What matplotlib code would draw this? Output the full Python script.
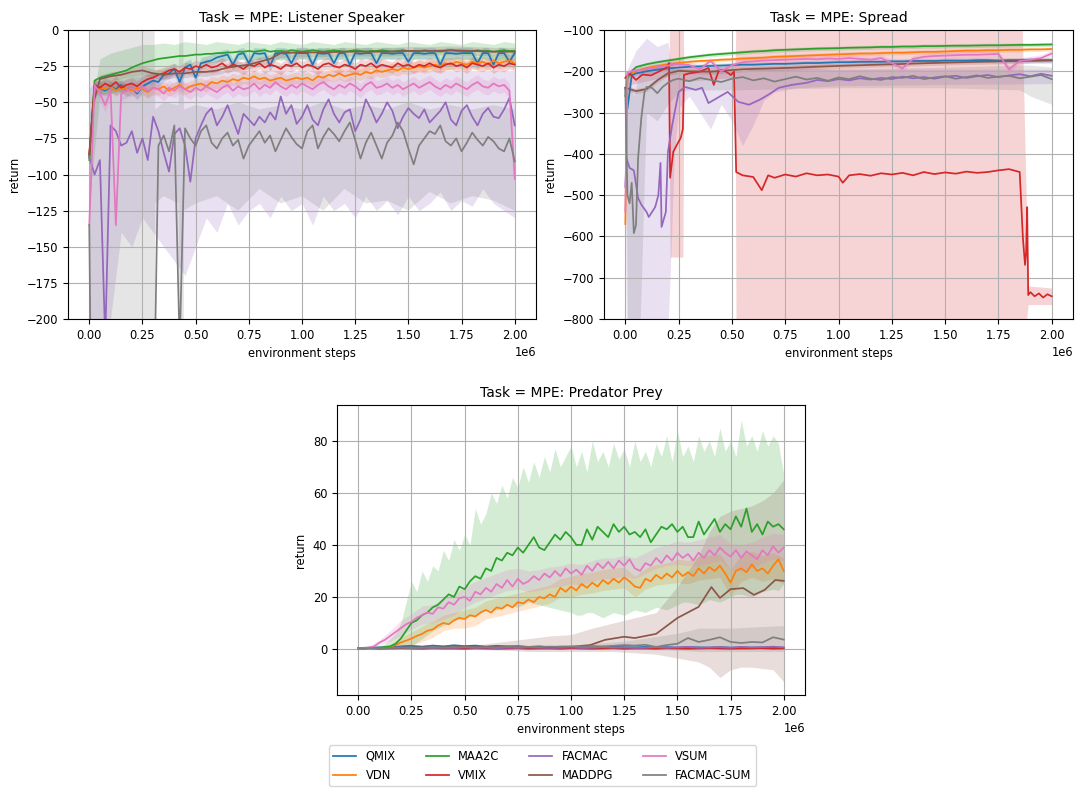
import numpy as np
import matplotlib
matplotlib.use("Agg")
import matplotlib.pyplot as plt

plt.rcParams["font.family"] = ["DejaVu Sans"]
plt.rcParams["font.size"] = 8.3
plt.rcParams["axes.titlesize"] = 10
plt.rcParams["legend.fontsize"] = 8.3

STEP = 1e6
ALGOS = ["QMIX", "VDN", "MAA2C", "VMIX", "FACMAC", "MADDPG", "VSUM", "FACMAC-SUM"]
COLORS = {"QMIX": "tab:blue", "VDN": "tab:orange", "MAA2C": "tab:green", "VMIX": "tab:red",
          "FACMAC": "tab:purple", "MADDPG": "tab:brown", "VSUM": "tab:pink", "FACMAC-SUM": "tab:gray"}

# evaluation grids (millions of environment steps)
X81 = np.linspace(0, 2, 81)
X41 = np.linspace(0, 2, 41)

# ---------------- Listener Speaker ----------------
ls_qmix = [
    -88, -38, -40, -42, -39, -41, -38, -42, -40, -44,
    -39, -37, -35, -36, -31, -30, -27, -36, -26, -24,
    -33, -23, -22, -21, -19, -18, -17, -24, -17, -16,
    -23, -16, -16.5, -16, -25, -16, -16, -16.5, -23, -16,
    -16, -16, -24, -16, -16.5, -16, -23, -16, -16, -24,
    -16, -16.5, -16, -16, -23, -16, -16, -16.5, -16, -16,
    -22, -16, -16, -16.5, -16, -16, -24, -16, -16, -16.5,
    -16, -16, -16, -23, -16, -16, -24, -16, -16, -22,
    -16]
ls_vdn = [
    -88, -42, -40, -41, -39, -42, -40, -41, -42, -40,
    -41, -43, -40, -41, -39, -42, -40, -38, -41, -39,
    -38, -37, -39, -36, -37, -35, -36, -34, -35, -33,
    -34, -32, -34, -33, -35, -34, -33, -35, -34, -33,
    -34, -33, -35, -32, -33, -31, -32, -30, -32, -31,
    -30, -31, -29, -30, -28, -29, -28, -27, -28, -26,
    -27, -26, -25, -26, -25, -24, -25, -23, -24, -22,
    -23, -24, -22, -23, -22, -24, -21, -23, -22, -21,
    -23]
ls_maa2c = [
    -90, -35, -33, -32, -31, -30, -29, -28, -26, -24.5,
    -23, -22, -21, -20, -19.5, -19, -18.5, -18, -18, -17.5,
    -17, -17, -16.5, -16.5, -16, -16, -15.5, -15.5, -15, -15,
    -14.5, -15, -14.5, -14, -15, -14.5, -14.5, -15, -14, -14.5,
    -15, -14.5, -14, -14.5, -15, -14.5, -14, -14.5, -15, -14.5,
    -14, -14.5, -15, -14.5, -14.5, -14, -14.5, -15, -14.5, -14,
    -14.5, -14.5, -15, -14, -14.5, -14.5, -15, -14.5, -14, -14.5,
    -14.5, -15, -14.5, -14, -14.5, -14.5, -15, -14.5, -14, -14.5,
    -14.5]
ls_vmix = [
    -86, -38, -40, -37, -39, -36, -40, -38, -37, -39,
    -36, -34, -33, -31, -30, -28, -27, -29, -26, -27,
    -25, -26, -24, -26, -25, -23, -26, -24, -25, -27,
    -24, -25, -23, -26, -24, -25, -27, -24, -25, -23,
    -26, -24, -25, -27, -24, -23, -25, -26, -24, -25,
    -27, -24, -25, -23, -26, -24, -25, -26, -23, -25,
    -24, -26, -24, -25, -23, -25, -26, -24, -23, -25,
    -24, -26, -23, -24, -25, -23, -26, -24, -25, -23,
    -24]
ls_facmac = [
    -88, -100, -90, -215, -66, -70, -80, -78, -70, -85,
    -75, -90, -60, -70, -85, -98, -72, -68, -80, -105,
    -75, -66, -58, -54, -66, -60, -52, -62, -72, -58,
    -62, -66, -60, -64, -57, -62, -46, -58, -52, -65,
    -60, -52, -62, -66, -55, -48, -58, -64, -57, -55,
    -70, -62, -48, -55, -64, -58, -50, -56, -68, -60,
    -54, -58, -61, -55, -64, -60, -56, -50, -62, -66,
    -56, -52, -60, -66, -58, -54, -60, -61, -55, -47,
    -66]
ls_vsum = [
    -135, -38, -44, -52, -42, -135, -44, -42, -40, -43,
    -39, -42, -40, -41, -44, -40, -42, -39, -41, -43,
    -40, -42, -39, -41, -43, -40, -38, -42, -39, -41,
    -40, -37, -41, -38, -40, -36, -39, -41, -38, -40,
    -37, -39, -41, -38, -36, -39, -41, -38, -40, -37,
    -39, -42, -38, -36, -40, -39, -37, -40, -38, -41,
    -39, -37, -40, -38, -36, -39, -41, -38, -40, -37,
    -39, -41, -38, -36, -39, -40, -37, -39, -38, -42,
    -103]
ls_facmac_sum = [
    -135, -500, -500, -500, -500, -500, -500, -500, -500, -500,
    -500, -500, -300, -80, -73, -84, -66, -220, -68, -75,
    -80, -70, -66, -78, -82, -75, -71, -80, -76, -89,
    -80, -75, -70, -78, -73, -84, -76, -68, -74, -79,
    -82, -70, -66, -82, -74, -68, -72, -77, -70, -64,
    -76, -89, -78, -71, -80, -89, -78, -73, -64, -70,
    -82, -93, -80, -75, -70, -72, -66, -77, -80, -75,
    -84, -78, -71, -76, -80, -74, -77, -82, -84, -75,
    -91]
ls_maddpg_x = [0, 0.02, 0.05, 0.1, 0.15, 0.2, 0.25, 0.3, 0.35, 0.4, 0.45, 0.5, 0.55, 0.6, 0.65,
               0.7, 0.75, 0.8, 0.85, 0.9, 1.0, 1.1, 1.2, 1.3, 1.4, 1.5, 1.6, 1.7, 1.8, 1.9, 2.0]
ls_maddpg = [-86, -50, -34, -32, -31, -29, -28, -30, -31, -30, -30, -29, -29, -28, -26,
             -25, -24, -22, -20, -16, -15.5, -15.5, -15, -15, -15, -14.5, -14.5, -14, -14.5, -15, -15]

# shaded bands (lower / upper)
ls_maa2c_lo = [
    -120, -45, -44, -42, -40, -36, -32, -29, -27, -25,
    -24, -23, -22, -21, -20, -21, -20, -20, -21, -20,
    -20, -21, -20, -20, -21, -20, -20, -21, -20, -20,
    -21, -20, -20, -21, -20, -20, -21, -20, -20, -21,
    -20]
ls_maa2c_hi = [
    -60, -20, -16, -14, -12, -10, -10, -9, -10, -8,
    -9, -10, -8, -9, -10, -8, -9, -10, -8, -9,
    -10, -8, -9, -10, -8, -9, -10, -8, -9, -10,
    -8, -9, -10, -8, -9, -10, -8, -9, -10, -8,
    -9]
ls_facmac_lo = [
    -200, -220, -200, -140, -150, -130, -140, -150, -160, -170,
    -150, -130, -140, -120, -135, -125, -120, -130, -115, -125,
    -120, -135, -115, -125, -120, -130, -115, -125, -118, -128,
    -115, -125, -120, -112, -125, -118, -122, -110, -120, -125,
    -130]
ls_facmac_hi = [
    -40, -35, -35, -35, -32, -32, -30, -30, -30, -30,
    -30, -28, -28, -28, -28, -28, -28, -28, -28, -28,
    -28, -28, -28, -28, -28, -28, -28, -28, -28, -28,
    -28, -28, -28, -28, -28, -28, -28, -28, -28, -28,
    -28]
ls_fsum_band_x = [0, 0.305, 0.31, 0.35, 0.42, 0.425, 0.44, 0.445, 0.5, 0.6,
                  0.7, 0.8, 0.9, 1.0, 1.1, 1.2, 1.3, 1.4, 1.5, 1.6, 1.7, 1.8, 1.9, 2.0]
ls_fsum_lo = [-1000, -1000, -120, -115, -120, -1000, -1000, -125, -120, -115,
              -125, -110, -120, -115, -125, -110, -120, -118, -125, -112, -120, -115, -118, -125]
ls_fsum_hi = [30, 30, -55, -50, -52, 30, 30, -55, -52, -55,
              -50, -55, -52, -55, -50, -55, -52, -55, -50, -55, -52, -55, -52, -55]

# ---------------- Spread ----------------
SP_X = np.r_[[0, 0.01, 0.03], X41[1:]]
sp_maa2c = [-260, -215, -200,
            -190, -183, -178, -174, -170, -166, -163, -160, -158, -156,
            -154, -152, -151, -149, -148, -147, -146, -145, -144.5, -144,
            -143, -142.5, -142, -141, -141, -140, -140, -139, -139, -138.5,
            -138, -138, -137.5, -137, -137, -136.5, -136, -136, -135.5, -135]
sp_vdn = [-570, -215, -205,
          -200, -192, -187, -183, -180, -177, -175, -174, -172, -171,
          -169, -168, -167, -165, -164, -163, -162, -161, -160, -159,
          -158, -157, -157, -156, -155, -155, -154, -153, -153, -152,
          -151, -150, -150, -149, -149, -148, -148, -147, -147, -146]
sp_qmix = [-240, -290, -210,
           -205, -200, -196, -193, -191, -189, -188, -187, -186, -185,
           -184, -184, -183, -182, -182, -181, -180, -180, -179, -178,
           -178, -177, -177, -177, -176, -176, -175, -175, -175, -174,
           -174, -174, -173, -173, -174, -173, -173, -172, -173, -173]
sp_vsum = [-540, -205, -200,
           -198, -195, -190, -186, -183, -185, -195, -175, -200, -185,
           -178, -176, -174, -173, -172, -171, -170, -171, -169, -170,
           -168, -170, -172, -168, -180, -193, -170, -165, -163, -162,
           -161, -160, -160, -159, -158, -195, -175, -172, -168, -157]
sp_maddpg_x = [0, 0.05, 0.1, 0.15, 0.2, 0.25, 0.3, 0.4, 0.5, 0.55, 0.75, 1.0, 1.25, 1.5, 1.75, 2.0]
sp_maddpg = [-240, -248, -243, -222, -205, -199, -200, -201, -197, -195, -192, -187, -183, -179, -176, -174]
sp_fsum_x = np.r_[[0, 0.01, 0.02, 0.03, 0.04, 0.05, 0.06, 0.075, 0.09, 0.1, 0.125, 0.15, 0.175, 0.2, 0.225, 0.25],
                  np.linspace(0.3, 2.0, 35)]
sp_fsum = [-245, -500, -520, -470, -592, -572, -410, -313, -250, -238, -240, -253, -238, -228, -221, -218,
           -224, -216, -221, -226, -218, -214, -222, -217, -225, -219,
           -213, -220, -216, -223, -215, -219, -212, -218, -221, -214,
           -216, -211, -219, -215, -212, -218, -214, -210, -216, -213,
           -211, -217, -213, -209, -219]
sp_facmac_x = [0, 0.005, 0.02, 0.04, 0.06, 0.075, 0.1, 0.11, 0.14, 0.155,
               0.165, 0.17, 0.19, 0.2, 0.22, 0.25, 0.28, 0.33, 0.36, 0.39,
               0.44, 0.48, 0.53, 0.58, 0.63, 0.67, 0.72, 0.78, 0.85, 0.9,
               0.95, 1.0, 1.05, 1.1, 1.15, 1.2, 1.25, 1.3, 1.35, 1.4,
               1.45, 1.5, 1.55, 1.6, 1.65, 1.7, 1.75, 1.8, 1.85, 1.9, 1.95, 2.0]
sp_facmac = [-480, -410, -434, -440, -507, -523, -541, -553, -529, -500,
             -422, -577, -541, -395, -330, -250, -238, -245, -240, -277,
             -262, -250, -274, -281, -269, -257, -240, -233, -228, -221,
             -224, -219, -222, -217, -220, -216, -219, -213, -217, -214,
             -218, -213, -211, -216, -212, -209, -214, -210, -207, -212, -206, -211]
sp_vmix_x = [0, 0.02, 0.05, 0.08, 0.12, 0.16, 0.19, 0.205, 0.21, 0.225,
             0.24, 0.26, 0.27, 0.275, 0.3, 0.35, 0.39, 0.415, 0.44, 0.47,
             0.495, 0.51, 0.52, 0.55, 0.6, 0.64, 0.67, 0.7, 0.75, 0.8,
             0.85, 0.9, 0.95, 1.0, 1.02, 1.05, 1.1, 1.15, 1.2, 1.25,
             1.3, 1.35, 1.4, 1.45, 1.5, 1.55, 1.6, 1.65, 1.7, 1.75,
             1.8, 1.85, 1.865, 1.875, 1.88, 1.885, 1.89, 1.9, 1.92, 1.94,
             1.96, 1.98, 2.0]
sp_vmix = [-216, -205, -221, -208, -210, -200, -192, -180, -458, -395,
           -380, -361, -340, -209, -205, -201, -192, -233, -196, -200,
           -209, -201, -444, -452, -456, -488, -452, -458, -450, -455,
           -447, -452, -450, -455, -470, -452, -449, -453, -447, -450,
           -446, -452, -444, -449, -445, -448, -443, -446, -444, -440,
           -437, -444, -604, -669, -640, -529, -742, -735, -745, -738,
           -748, -740, -745]
sp_vmix_band_x = [0, 0.2, 0.205, 0.21, 0.27, 0.275, 0.515, 0.52, 1.86, 1.89, 2.0]
sp_vmix_lo = [-235, -212, -215, -650, -650, -225, -215, -900, -900, -765, -765]
sp_vmix_hi = [-200, -180, -170, -50, -50, -190, -185, -50, -50, -720, -725]
sp_facmac_band_x = [0, 0.005, 0.05, 0.1, 0.15, 0.2, 0.21, 0.23, 0.25, 0.3, 0.35, 0.4,
                    0.45, 0.5, 0.55, 0.6, 0.65, 0.7, 0.75, 0.8, 1.0, 1.5, 2.0]
sp_facmac_lo = [-500, -820, -850, -850, -850, -820, -700, -400, -290, -260, -300, -340,
                -280, -320, -380, -330, -270, -250, -245, -240, -235, -232, -230]
sp_facmac_hi = [-460, -200, -150, -120, -140, -130, -170, -200, -205, -200, -195, -190,
                -190, -195, -200, -190, -190, -190, -190, -190, -195, -195, -195]
sp_fsum_band_x = [0, 0.01, 0.04, 0.07, 0.09, 0.1, 0.15, 0.2, 0.25, 0.3, 0.5, 1.0, 1.5, 1.85, 1.9, 2.0]
sp_fsum_lo = [-260, -800, -850, -800, -450, -300, -320, -280, -250, -245, -245, -240, -240, -245, -260, -280]
sp_fsum_hi = [-200, -200, -260, -190, -190, -190, -185, -190, -195, -195, -195, -195, -190, -185, -185, -190]

# ---------------- Predator Prey ----------------
pp_maa2c = [
    0.3, 0.2, 0.3, 0.4, 0.5, 0.8, 1.0, 2.0, 4, 7,
    10, 11, 13, 14, 16, 17, 19, 21, 20, 24,
    23, 26, 28, 27, 31, 30, 35, 34, 37, 36,
    39, 37, 40, 43, 39, 38, 41, 44, 42, 45,
    43, 40, 40, 46, 42, 47, 45, 43, 48, 45,
    47, 44, 45, 43, 46, 41, 44, 47, 46, 48,
    45, 47, 43, 43, 49, 44, 47, 50, 45, 48,
    46, 51, 47, 54, 45, 48, 44, 49, 47, 48,
    46]
pp_vsum = [
    0.2, 0.3, 0.5, 1.0, 2.5, 3.5, 5, 6.5, 8, 9.5,
    10.5, 12, 13, 14, 13.5, 16, 15.5, 18, 17, 19.5,
    20, 18.5, 22, 21, 23.5, 22, 25, 23.5, 26.5, 24,
    27, 25, 26, 28, 26.5, 29, 27.5, 30, 28, 31,
    29, 30.5, 28.5, 32, 30, 33, 31, 33.5, 31, 34,
    32, 34.5, 31, 30, 33, 32, 35, 33, 36, 34,
    37, 35, 36.5, 34, 37, 35, 38, 36, 39, 37,
    35.5, 38, 35, 37.5, 36, 34.5, 38, 36, 39.5, 37,
    39]
pp_vdn = [
    0.1, 0.2, 0.2, 0.3, 0.4, 0.5, 0.8, 1.5, 2.5, 3.2,
    4, 5, 5.8, 7, 7.5, 9, 10, 9.5, 11, 12,
    11.5, 13, 12.5, 14, 15, 14, 16, 15.5, 17, 16,
    18, 17.5, 19, 18, 20, 19.5, 21, 20, 23.5, 22,
    24, 22.5, 25, 23.5, 25.5, 24, 26.5, 25, 27, 25.5,
    27.5, 26, 24, 23.5, 27, 26, 28.5, 27, 29, 27.5,
    30, 28, 29.5, 28, 31, 29, 31.5, 30, 32, 29,
    25.5, 30, 31, 29.5, 32.5, 30, 31, 29, 32, 34.5,
    30]
pp_qmix = [0.3, 0.5, 0.6, 0.7, 1.0, 1.2, 0.9, 1.3, 1.0, 1.4,
           1.1, 1.3, 0.9, 1.2, 1.0, 1.1, 0.8, 1.0, 0.7, 0.9,
           0.8, 0.7, 0.9, 0.6, 0.8, 0.7, 0.6, 0.8, 0.6, 0.7,
           0.5, 0.7, 0.6, 0.5, 0.7, 0.5, 0.6, 0.5, 0.6, 0.5,
           0.5]
pp_vmix = [0.2, 0.3, 0.1, 0.2, 0.3, 0.2, 0.1, 0.3, 0.2, 0.2,
           0.1, 0.3, 0.2, 0.1, 0.2, 0.3, 0.1, 0.2, 0.2, 0.1,
           0.3, 0.2, 0.1, 0.2, 0.3, 0.1, 0.2, 0.2, 0.1, 0.3,
           0.2, 0.1, 0.2, 0.3, 0.2, 0.1, 0.2, 0.2, 0.3, 0.1,
           0.2]
pp_facmac = [0.4, 0.5, 0.3, 0.4, 0.6, 0.4, 0.5, 0.3, 0.5, 0.4,
             0.6, 0.4, 0.5, 0.3, 0.5, 0.4, 0.6, 0.5, 0.4, 0.5,
             0.6, 0.4, 0.5, 0.7, 0.5, 0.6, 0.4, 0.5, 0.7, 0.5,
             0.6, 0.8, 0.5, 0.6, 0.7, 0.5, 0.8, 0.6, 0.7, 0.9,
             0.6]
pp_facmac_sum = [0.2, 0.3, 0.3, 0.4, 0.5, 0.4, 0.5, 0.6, 0.5, 0.6,
                 0.7, 0.6, 0.7, 0.6, 0.8, 0.7, 0.8, 0.7, 0.9, 0.8,
                 1.0, 0.9, 1.1, 1.0, 1.2, 1.5, 1.3, 1.6, 0.8, 1.5,
                 2.0, 4.2, 2.7, 3.5, 4.5, 2.7, 2.3, 2.7, 2.5, 4.5,
                 3.6]
pp_maddpg_x = [0, 0.1, 0.2, 0.3, 0.4, 0.5, 0.6, 0.7, 0.8, 0.9, 1.0, 1.09, 1.16,
               1.25, 1.3, 1.4, 1.5, 1.6, 1.66, 1.7, 1.75, 1.81, 1.86, 1.91, 1.96, 2.0]
pp_maddpg = [0.3, 0.3, 0.5, 0.6, 0.6, 0.8, 0.7, 0.9, 0.6, 0.7, 0.8, 1.5, 3.5,
             4.7, 4.2, 5.8, 11.9, 16.2, 23.8, 19.6, 23, 23.4, 20.8, 22.7, 26.5, 26.2]
pp_maa2c_hi = [
    0.5, 0.5, 0.6, 0.8, 1, 2, 4, 6, 10, 18,
    26, 22, 30, 26, 32, 30, 38, 34, 42, 38,
    44, 40, 54, 48, 52, 60, 56, 63, 58, 66,
    62, 70, 64, 72, 66, 74, 68, 77, 70, 74,
    78, 70, 76, 68, 80, 72, 76, 70, 79, 73,
    77, 70, 80, 72, 76, 70, 79, 74, 82, 72,
    84, 74, 78, 72, 82, 76, 80, 74, 85, 76,
    80, 74, 88, 78, 82, 76, 84, 78, 82, 79,
    67]
pp_maa2c_lo = [
    0, 0, 0, 0, 0, 0, 0, 0.1, 0.2, 0.5,
    1, 2.5, 4, 5.5, 7, 8, 9, 10, 11, 11.5,
    12, 12.5, 13, 14, 15, 15, 15, 16, 17, 16.5,
    16, 17, 18, 17.5, 17, 16.5, 16, 15.5, 15, 14.5,
    14, 13, 13, 14, 14, 13, 12, 13, 14, 13.5,
    13, 14, 15, 14.5, 14, 15, 16, 15.5, 15, 16,
    17, 18, 18, 17.5, 17, 18, 19, 18.5, 18, 19,
    20, 21, 21, 20.5, 20, 21, 22, 22.5, 23, 22.5,
    25]
pp_vsum_sd = [0.3, 0.5, 1, 2, 3, 3, 3.5, 3.5, 4, 4,
              4, 4, 4, 4, 4, 4, 4, 4, 4, 4,
              4, 4, 4, 4, 4, 4, 4, 4, 4, 4,
              4.5, 4.5, 5, 5, 5, 5, 5, 5, 5, 5,
              5]
pp_vdn_sd = [0.2, 0.2, 0.3, 1, 2, 2.5, 3, 3, 3, 3,
             3.5, 3.5, 3.5, 3.5, 3.5, 3.5, 3.5, 3.5, 3.5, 3.5,
             4, 4, 4, 4, 4, 4, 4, 4, 4, 4,
             4.5, 4.5, 4.5, 4.5, 4.5, 5, 5, 5, 5, 5,
             5]
pp_maddpg_band_x = [0, 0.5, 0.7, 0.8, 0.9, 1.0, 1.1, 1.2, 1.3, 1.4,
                    1.5, 1.6, 1.65, 1.7, 1.75, 1.8, 1.85, 1.9, 1.95, 2.0]
pp_maddpg_lo = [0, 0, -0.5, -1, -1, -1, -1, -1, -1.5, -2,
                -3.5, -5, -7, -11, -8, -7, -7, -7.5, -8, -12.6]
pp_maddpg_hi = [0.5, 1, 3, 4, 5, 5.5, 8, 10, 12, 14,
                24, 36, 45, 51, 53, 54, 55, 57, 60, 65]
pp_fsum_band_x = [0, 1.0, 1.25, 1.5, 1.6, 1.75, 2.0]
pp_fsum_lo = [0, 0, 0, -0.5, -1, -1, -1]
pp_fsum_hi = [0.5, 1.5, 3, 6, 8, 8, 9]

pp_vsum_mid = np.asarray(pp_vsum)[::2]
pp_vdn_mid = np.asarray(pp_vdn)[::2]

PANELS = [
    dict(title="Task = MPE: Listener Speaker",
         lines={"QMIX": (X81, ls_qmix), "VDN": (X81, ls_vdn), "MAA2C": (X81, ls_maa2c),
                "VMIX": (X81, ls_vmix), "FACMAC": (X81, ls_facmac), "MADDPG": (ls_maddpg_x, ls_maddpg),
                "VSUM": (X81, ls_vsum), "FACMAC-SUM": (X81, ls_facmac_sum)},
         bands={"MAA2C": (X41, ls_maa2c_lo, ls_maa2c_hi), "FACMAC": (X41, ls_facmac_lo, ls_facmac_hi),
                "FACMAC-SUM": (ls_fsum_band_x, ls_fsum_lo, ls_fsum_hi)},
         spread={"QMIX": 4, "VDN": 4, "VMIX": 4, "VSUM": 5, "MADDPG": 3},
         ylim=(-200, 0), yticks=[-200, -175, -150, -125, -100, -75, -50, -25, 0]),
    dict(title="Task = MPE: Spread",
         lines={"QMIX": (SP_X, sp_qmix), "VDN": (SP_X, sp_vdn), "MAA2C": (SP_X, sp_maa2c),
                "VMIX": (sp_vmix_x, sp_vmix), "FACMAC": (sp_facmac_x, sp_facmac),
                "MADDPG": (sp_maddpg_x, sp_maddpg), "VSUM": (SP_X, sp_vsum),
                "FACMAC-SUM": (sp_fsum_x, sp_fsum)},
         bands={"VMIX": (sp_vmix_band_x, sp_vmix_lo, sp_vmix_hi),
                "FACMAC": (sp_facmac_band_x, sp_facmac_lo, sp_facmac_hi),
                "FACMAC-SUM": (sp_fsum_band_x, sp_fsum_lo, sp_fsum_hi)},
         spread={"QMIX": 6, "VDN": 5, "MAA2C": 5, "VSUM": 8, "MADDPG": 6},
         ylim=(-800, -100), yticks=[-800, -700, -600, -500, -400, -300, -200, -100]),
    dict(title="Task = MPE: Predator Prey",
         lines={"QMIX": (X41, pp_qmix), "VDN": (X81, pp_vdn), "MAA2C": (X81, pp_maa2c),
                "VMIX": (X41, pp_vmix), "FACMAC": (X41, pp_facmac), "MADDPG": (pp_maddpg_x, pp_maddpg),
                "VSUM": (X81, pp_vsum), "FACMAC-SUM": (X41, pp_facmac_sum)},
         bands={"MAA2C": (X81, pp_maa2c_lo, pp_maa2c_hi),
                "VDN": (X41, pp_vdn_mid - np.asarray(pp_vdn_sd), pp_vdn_mid + np.asarray(pp_vdn_sd)),
                "VSUM": (X41, pp_vsum_mid - np.asarray(pp_vsum_sd), pp_vsum_mid + np.asarray(pp_vsum_sd)),
                "MADDPG": (pp_maddpg_band_x, pp_maddpg_lo, pp_maddpg_hi),
                "FACMAC-SUM": (pp_fsum_band_x, pp_fsum_lo, pp_fsum_hi)},
         spread={"QMIX": 0.5, "VMIX": 0.3, "FACMAC": 0.4},
         ylim=(-17.7, 93.8), yticks=[0, 20, 40, 60, 80]),
]

fig = plt.figure(figsize=(10.79, 7.88), dpi=100)
W, H = 1079, 788
rects = [(68, 30, 536, 319), (604, 30, 1073, 319), (337, 405, 805, 695)]

handles = {}
for panel, (l, t, r, b) in zip(PANELS, rects):
    ax = fig.add_axes([l / W, 1 - b / H, (r - l) / W, (b - t) / H])
    for algo in ALGOS:
        c = COLORS[algo]
        x, y = panel["lines"][algo]
        x = np.asarray(x, dtype=float) * STEP
        y = np.asarray(y, dtype=float)
        ln, = ax.plot(x, y, color=c, lw=1.25, label=algo)
        handles[algo] = ln
        if algo in panel["bands"]:
            bx, lo, hi = panel["bands"][algo]
            ax.fill_between(np.asarray(bx, dtype=float) * STEP, lo, hi, color=c, alpha=0.2, linewidth=0)
        elif algo in panel["spread"]:
            s = panel["spread"][algo]
            ax.fill_between(x, y - s, y + s, color=c, alpha=0.2, linewidth=0)
    ax.set_xlim(-0.1e6, 2.1e6)
    ax.set_ylim(*panel["ylim"])
    ax.set_yticks(panel["yticks"])
    ax.set_xticks(np.arange(0, 2.01, 0.25) * STEP)
    ax.grid(True)
    ax.set_title(panel["title"])
    ax.set_xlabel("environment steps")
    ax.set_ylabel("return")

fig.legend([handles[a] for a in ALGOS], ALGOS, loc="lower center", ncol=4,
           bbox_to_anchor=(0.5028, 0.0), borderaxespad=0.15, columnspacing=2.6)

fig.savefig("out.png", dpi=100)
